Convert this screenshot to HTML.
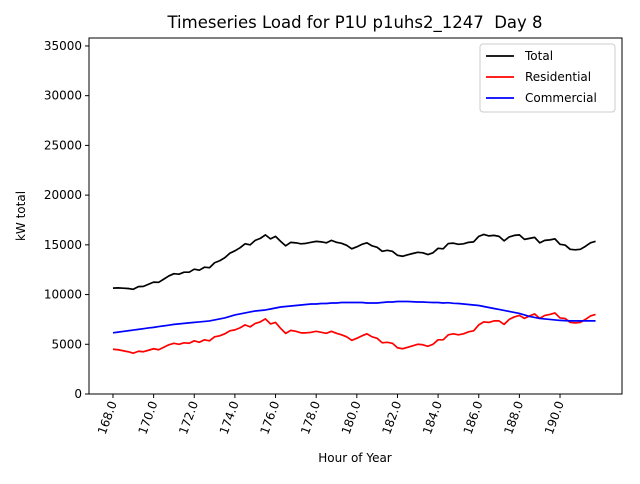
<!DOCTYPE html>
<html><head><meta charset="utf-8"><style>
body{margin:0;background:#fff;font-family:"DejaVu Sans","Liberation Sans",sans-serif}
</style></head><body>
<svg id="chart" width="640" height="480" xmlns="http://www.w3.org/2000/svg" font-family="DejaVu Sans, Liberation Sans, sans-serif"></svg>
<script>
const xTicks=[168,170,172,174,176,178,180,182,184,186,188,190];
const yTicks=[0,5000,10000,15000,20000,25000,30000,35000];
const startHour=168, stepHour=0.25;
const residential=[4500,4450,4350,4250,4100,4300,4250,4400,4550,4450,4700,4950,5100,5000,5150,5100,5350,5200,5450,5350,5750,5850,6050,6350,6450,6650,6950,6750,7100,7250,7550,7050,7200,6600,6100,6400,6300,6150,6150,6200,6300,6200,6100,6300,6100,5950,5750,5400,5600,5850,6050,5750,5600,5150,5200,5100,4650,4550,4700,4850,5000,4950,4800,5000,5450,5450,5950,6050,5950,6050,6250,6350,6950,7250,7200,7350,7350,7000,7500,7750,7900,7600,7850,8050,7600,7900,8000,8150,7650,7600,7200,7150,7200,7500,7850,8000];
const commercial=[6150,6220,6290,6360,6430,6500,6570,6640,6700,6780,6850,6920,7000,7050,7100,7150,7200,7250,7300,7350,7450,7550,7650,7800,7950,8050,8150,8250,8350,8400,8450,8550,8650,8750,8800,8850,8900,8950,9000,9050,9050,9100,9100,9150,9150,9200,9200,9200,9200,9200,9150,9150,9150,9200,9250,9250,9300,9300,9300,9280,9250,9250,9220,9200,9200,9150,9180,9120,9100,9050,9000,8950,8900,8800,8700,8600,8500,8400,8300,8200,8100,7950,7800,7700,7600,7550,7500,7450,7400,7380,7350,7350,7350,7350,7350,7350];
const total=residential.map((v,i)=>v+commercial[i]);

const svg=document.getElementById('chart');
const NS='http://www.w3.org/2000/svg';
const L=89,R=622,T=38,B=394;
const xMin=166.82,xMax=193.05,yMin=0,yMax=35800;
const xs=v=>L+(v-xMin)/(xMax-xMin)*(R-L);
const ys=v=>B-(v-yMin)/(yMax-yMin)*(B-T);
function mk(tag,attrs){const e=document.createElementNS(NS,tag);for(const k in attrs)e.setAttribute(k,attrs[k]);svg.appendChild(e);return e;}

const title=mk('text',{x:355,y:28,'text-anchor':'middle','font-size':16.5,style:'white-space:pre'});
title.textContent='Timeseries Load for P1U p1uhs2_1247  Day 8';



xTicks.forEach(t=>{
  const x=xs(t);
  const tk=mk('line',{x1:x,x2:x,y1:B,y2:B+4,stroke:'#000'});
  
  
  const lb=mk('text',{x:0,y:0,'font-size':12,'text-anchor':'end',transform:`translate(${x+4},${B+9}) rotate(-70)`});
  lb.textContent=t.toFixed(1);
  
  
});
yTicks.forEach(t=>{
  const y=ys(t);
  const tk=mk('line',{x1:L-4,x2:L,y1:y,y2:y,stroke:'#000'});
  
  
  const lb=mk('text',{x:L-7,y:y+4,'font-size':12,'text-anchor':'end'});
  lb.textContent=t;
  
  
});
const xt=mk('text',{x:355,y:462,'text-anchor':'middle','font-size':12});
xt.textContent='Hour of Year';


const yt=mk('text',{x:0,y:0,'text-anchor':'middle','font-size':12,transform:'translate(25,216) rotate(-90)'});
yt.textContent='kW total';



function series(arr,color,name){
  const pts=arr.map((v,i)=>xs(startHour+i*stepHour).toFixed(2)+','+ys(v).toFixed(2)).join(' ');
  const p=mk('polyline',{points:pts,fill:'none',stroke:color,'stroke-width':1.7,'stroke-linejoin':'round'});
  
  
}
series(total,'#000','total-line');
series(residential,'#f00','residential-line');
series(commercial,'#00f','commercial-line');

const frame=mk('rect',{x:L,y:T,width:R-L,height:B-T,fill:'none',stroke:'#000','stroke-width':1});



const lg=mk('rect',{x:480,y:44,width:135,height:68,fill:'#fff',stroke:'#ccc',rx:3});


[['Total','#000'],['Residential','#f00'],['Commercial','#00f']].forEach((d,i)=>{
  const y=56+i*21;
  const ln=mk('line',{x1:486,x2:514,y1:y,y2:y,stroke:d[1],'stroke-width':1.7});
  
  
  const tx=mk('text',{x:525,y:y+4,'font-size':12});
  tx.textContent=d[0];
  
  
});
</script>
</body></html>
